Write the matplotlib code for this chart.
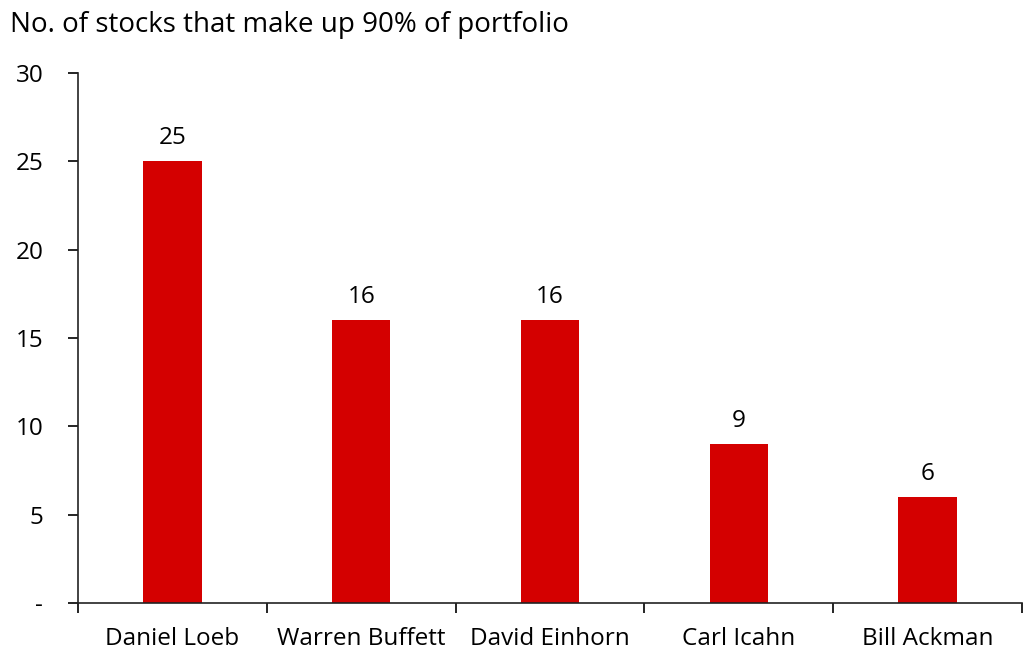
import matplotlib.pyplot as plt
import matplotlib as mpl
import numpy as np

mpl.rcParams['font.family'] = 'Open Sans'

# data
managers = ['Daniel Loeb', 'Warren Buffett', 'David Einhorn', 'Carl Icahn', 'Bill Ackman']
n_stocks = [25, 16, 16, 9, 6]

fig = plt.figure(figsize=(10.24, 6.59), dpi=100)
ax = fig.add_axes([0.0762, 0.085, 0.9218, 0.804])

x = np.arange(len(managers))
ax.bar(x, n_stocks, width=0.31, color='#d40000')

for xi, v in zip(x, n_stocks):
    ax.annotate(str(v), (xi, v), xytext=(0, 8), textcoords='offset points',
                ha='center', va='bottom', fontsize=17.5)

ax.set_xlim(-0.5, len(managers) - 0.5)
ax.set_ylim(0, 30)
ax.set_yticks([0, 5, 10, 15, 20, 25, 30])
ax.set_yticklabels(['-', '5', '10', '15', '20', '25', '30'])
ax.set_xticks(x)
ax.set_xticklabels(managers)
ax.set_xticks(np.arange(-0.5, len(managers)), minor=True)

ax.tick_params(axis='y', labelsize=17.5, length=7, width=1.2, pad=18, direction='out')
ax.tick_params(axis='x', which='major', length=0, labelsize=17.5, pad=17)
ax.tick_params(axis='x', which='minor', length=7, width=1.2, direction='out')

for s in ['top', 'right']:
    ax.spines[s].set_visible(False)
for s in ['left', 'bottom']:
    ax.spines[s].set_linewidth(1.2)
    ax.spines[s].set_color('#222222')

fig.text(0.01, 0.962, 'No. of stocks that make up 90% of portfolio', fontsize=20, va='center', ha='left')

plt.savefig('out.png', dpi=100)
